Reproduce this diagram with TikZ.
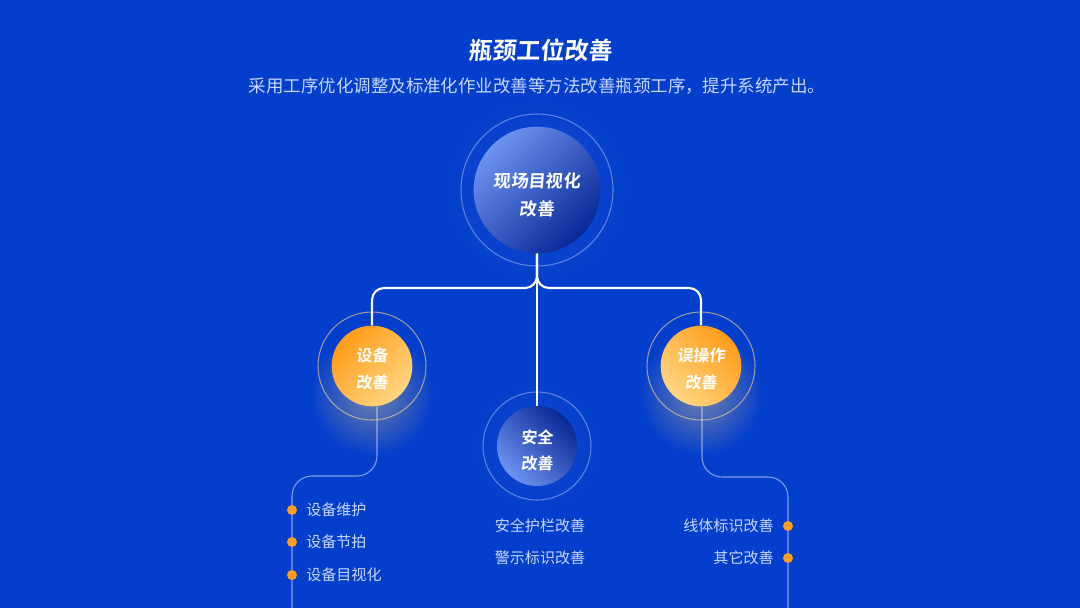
\documentclass[tikz,border=0pt]{standalone}
\usepackage{fontspec}
\setmainfont{Noto Sans CJK SC}
\newfontfamily\cjkb{Noto Sans CJK SC Bold}[FakeSlant=0.08]
\newfontfamily\cjkr{Noto Sans CJK SC}
\usetikzlibrary{fadings,shadings}
\definecolor{bg}{RGB}{3,62,204}
\definecolor{lightblue}{RGB}{110,146,240}
\definecolor{darkblue}{RGB}{8,40,150}
\definecolor{org}{RGB}{255,156,24}
\definecolor{orglight}{RGB}{255,214,130}
\definecolor{txt}{RGB}{200,214,255}
\tikzfading[name=softglow, inner color=transparent!0, outer color=transparent!100]
\begin{document}
\begin{tikzpicture}[x=0.75pt,y=-0.75pt,
  ring/.style={circle, draw=white, draw opacity=0.35, line width=0.8pt, inner sep=0pt},
  ball/.style={circle, inner sep=0pt, shade, shading=axis},
  bigtxt/.style={text=white, font=\cjkb\fontsize{13pt}{21pt}\selectfont, align=center, inner sep=0pt},
  smalltxt/.style={text=white, font=\cjkb\fontsize{12pt}{20pt}\selectfont, align=center, inner sep=0pt},
  item/.style={text=txt, font=\cjkr\fontsize{11.3pt}{14pt}\selectfont, inner sep=0pt},
  dot/.style={circle, fill=org, inner sep=0pt, minimum size=7.5pt},
  trunk/.style={draw=white, line width=1.6pt, rounded corners=9pt},
  twig/.style={draw=white, draw opacity=0.5, line width=0.8pt, rounded corners=15pt}]
\fill[bg] (0,0) rectangle (1080,608);
\useasboundingbox (0,0) rectangle (1080,608);
% soft glows
\fill[white, fill opacity=0.08, path fading=softglow] (537,190) circle (100);
\fill[orglight, fill opacity=0.45, path fading=softglow] (372,394) circle (62);
\fill[orglight, fill opacity=0.45, path fading=softglow] (701,394) circle (62);
\fill[white, fill opacity=0.05, path fading=softglow] (537,446) circle (75);

% title
\node[text=white, font=\cjkb\fontsize{18pt}{22pt}\selectfont] (title) at (540,50) {瓶颈工位改善};
\node[text=txt, font=\cjkr\fontsize{13.1pt}{16pt}\selectfont] (sub) at (537,86) {采用工序优化调整及标准化作业改善等方法改善瓶颈工序，提升系统产出。};

% rings
\node[ring, minimum size=114pt] (mainring) at (537,190) {};
\node[ring, draw=orglight, draw opacity=0.6, minimum size=81pt] (leftring) at (372,366) {};
\node[ring, draw=orglight, draw opacity=0.6, minimum size=81pt] (rightring) at (701,366) {};
\node[ring, minimum size=81pt] (safering) at (537,446) {};

% circles
\node[ball, minimum size=95pt, top color=lightblue, bottom color=darkblue, shading angle=45] (main) at (537,190) {};
\node[ball, minimum size=60.5pt, top color=org, bottom color=orglight, shading angle=45] (left) at (372,366) {};
\node[ball, minimum size=60.5pt, top color=org, bottom color=orglight, shading angle=-45] (right) at (701,366) {};
\node[ball, minimum size=60pt, top color=darkblue, bottom color=lightblue, shading angle=-45] (safe) at (537,446) {};

% circle texts
\node[bigtxt] (mainA) at (537,181) {现场目视化};
\node[bigtxt] (mainB) at (537,209) {改善};
\node[smalltxt] (leftA) at (372,355) {设备};
\node[smalltxt] (leftB) at (372,382) {改善};
\node[smalltxt] (rightA) at (701,355) {误操作};
\node[smalltxt] (rightB) at (701,382) {改善};
\node[smalltxt] (safeA) at (537,437) {安全};
\node[smalltxt] (safeB) at (537,463) {改善};

% trunk connectors
\coordinate (fork) at (537,288);
\draw[trunk] (main.south) -- (fork) -- (fork -| left.north) -- (left.north);
\draw[trunk] (main.south) -- (fork) -- (fork -| right.north) -- (right.north);
\draw[draw=white, line width=1.6pt] (main.south) -- (safe.north);

% lower branches
\coordinate (lbot) at (292,608);
\coordinate (rbot) at (788,608);
\draw[twig] ([xshift=3.75pt]left.south) -- (377,476) -- (292,476) -- (lbot);
\draw[twig] ([xshift=0.75pt]right.south) -- (702,477) -- (788,477) -- (rbot);

% items left
\node[dot] (d1) at (292,510) {};
\node[dot] (d2) at (292,542) {};
\node[dot] (d3) at (292,575) {};
\node[item, anchor=west] (t1) at (306,510) {设备维护};
\node[item, anchor=west] (t2) at (306,542) {设备节拍};
\node[item, anchor=west] (t3) at (306,575) {设备目视化};

% items center
\node[item] (c1) at (540,526) {安全护栏改善};
\node[item] (c2) at (540,558) {警示标识改善};

% items right
\node[dot] (r1) at (788,526) {};
\node[dot] (r2) at (788,558) {};
\node[item, anchor=east] (s1) at (774,526) {线体标识改善};
\node[item, anchor=east] (s2) at (774,558) {其它改善};
\end{tikzpicture}
\end{document}
